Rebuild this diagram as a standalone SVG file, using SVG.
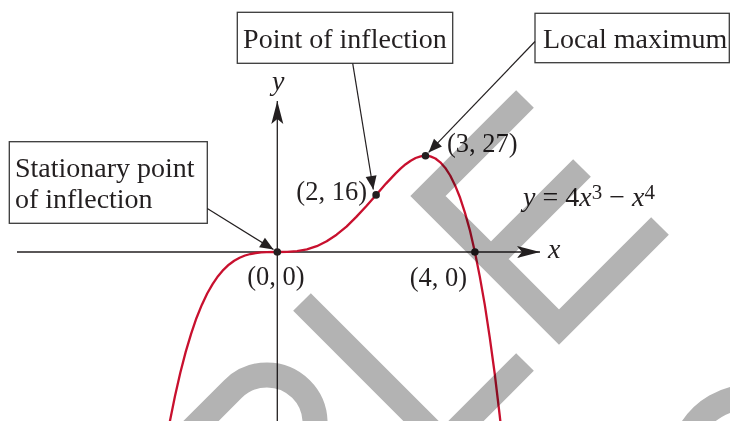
<svg xmlns="http://www.w3.org/2000/svg" width="730" height="421" viewBox="0 0 730 421">
<defs>
<style>
.t{font-family:"Liberation Serif","Times New Roman",serif;fill:#231f20}
.lab{font-size:28px}
.pt{font-size:26.5px}
.eq{font-size:28px}
.it{font-style:italic}
.sup{font-size:21px}
.box{fill:#fff;stroke:#3a3a3a;stroke-width:1.3}
.ax{stroke:#231f20;stroke-width:1.3;fill:none}
.cn{stroke:#231f20;stroke-width:1.2;fill:none}
.dot{fill:#231f20}
.curve{fill:none;stroke:#c8102e;stroke-width:2.3;stroke-linejoin:round}
.wm{fill:none;stroke:#b3b3b3;stroke-width:25;stroke-linejoin:miter;stroke-linecap:butt}
</style>
<marker id="axh" markerUnits="userSpaceOnUse" markerWidth="24" markerHeight="13" refX="23" refY="6.5" orient="auto" overflow="visible">
<path d="M0,0.5 L23,6.5 L0,12.5 L5,6.5 Z" fill="#231f20"/>
</marker>
<marker id="cah" markerUnits="userSpaceOnUse" markerWidth="14" markerHeight="12" refX="13.5" refY="5.5" orient="auto" overflow="visible">
<path d="M0,0 L13.5,5.5 L0,11 Z" fill="#231f20"/>
</marker>
</defs>
<rect width="730" height="421" fill="#fff"/>

<g id="axes">
<line class="ax" x1="17" y1="252" x2="540" y2="252" marker-end="url(#axh)"/>
<line class="ax" x1="277.3" y1="421" x2="277.3" y2="101" marker-end="url(#axh)"/>
<text class="t lab it" x="548" y="258">x</text>
<text class="t lab it" x="272" y="90">y</text>
</g>

<g id="curve">
<polyline class="curve" points="169.5,423.2 174.9,396.4 180.3,372.7 185.7,351.9 191.1,333.8 196.4,318.2 201.8,304.9 207.2,293.5 212.6,284.1 218.0,276.2 223.4,269.8 228.8,264.7 234.2,260.8 239.6,257.8 245.0,255.5 250.4,254.0 255.7,253.0 261.1,252.4 266.5,252.1 277.3,252 287.2,251.9 297.1,251.2 306.9,249.4 316.8,246.2 326.7,241.3 336.6,234.7 346.5,226.6 356.3,216.9 366.2,206.2 376.1,194.9 386.0,183.6 395.9,173.1 400.8,168.4 405.7,164.2 410.7,160.7 415.6,158.0 420.6,156.3 425.5,155.7 430.4,156.4 435.4,158.5 440.3,162.3 445.3,167.9 450.2,175.5 455.1,185.4 460.1,197.8 465.0,212.9 470.0,230.8 474.9,252 479.8,276.6 484.8,304.9 489.7,337.1 494.7,373.5 499.6,414.5 502.1,436.8"/>
<text class="t eq" x="523" y="206"><tspan class="it">y</tspan> = 4<tspan class="it">x</tspan><tspan class="sup" dy="-7">3</tspan><tspan dy="7"> − </tspan><tspan class="it">x</tspan><tspan class="sup" dy="-7">4</tspan></text>
</g>

<g id="point-origin">
<circle class="dot" cx="277.3" cy="252" r="3.8"/>
<text class="t pt" x="276" y="285" text-anchor="middle">(0, 0)</text>
</g>
<g id="point-inflection">
<circle class="dot" cx="376.1" cy="194.9" r="3.8"/>
<text class="t pt" x="367" y="199.5" text-anchor="end">(2, 16)</text>
</g>
<g id="point-max">
<circle class="dot" cx="425.5" cy="155.7" r="3.8"/>
<text class="t pt" x="447" y="152">(3, 27)</text>
</g>
<g id="point-root">
<circle class="dot" cx="474.9" cy="252" r="3.8"/>
<text class="t pt" x="438.5" y="285.5" text-anchor="middle">(4, 0)</text>
</g>

<g id="box-inflection">
<rect class="box" x="237.3" y="12.3" width="215.4" height="51"/>
<text class="t lab" x="345" y="48" text-anchor="middle">Point of inflection</text>
</g>
<g id="box-maximum">
<rect class="box" x="535" y="13.3" width="194.3" height="49.4"/>
<text class="t lab" x="543" y="48">Local maximum</text>
</g>
<g id="box-stationary">
<rect class="box" x="9.3" y="141.7" width="198" height="81.6"/>
<text class="t lab" x="15" y="177">Stationary point</text>
<text class="t lab" x="15" y="208">of inflection</text>
</g>

<g id="connectors">
<line class="cn" x1="352.7" y1="63.3" x2="373.3" y2="189.5" marker-end="url(#cah)"/>
<line class="cn" x1="535" y1="41.5" x2="428.6" y2="152.4" marker-end="url(#cah)"/>
<line class="cn" x1="207.3" y1="208.5" x2="273.5" y2="249.6" marker-end="url(#cah)"/>
</g>

<g id="watermark" style="mix-blend-mode:multiply">
<path class="wm" d="M180,442 L233,389 A48,48 0 0 1 301,457 L260,498"/>
<path class="wm" d="M302,302 L443.5,443.5 L525,362"/>
<path class="wm" d="M525,99 L428,196 L559,327 L660,226 M491,259 L582,168"/>
<path class="wm" d="M681,466 A69,69 0 0 1 784.5,406.2"/>
</g>
</svg>
